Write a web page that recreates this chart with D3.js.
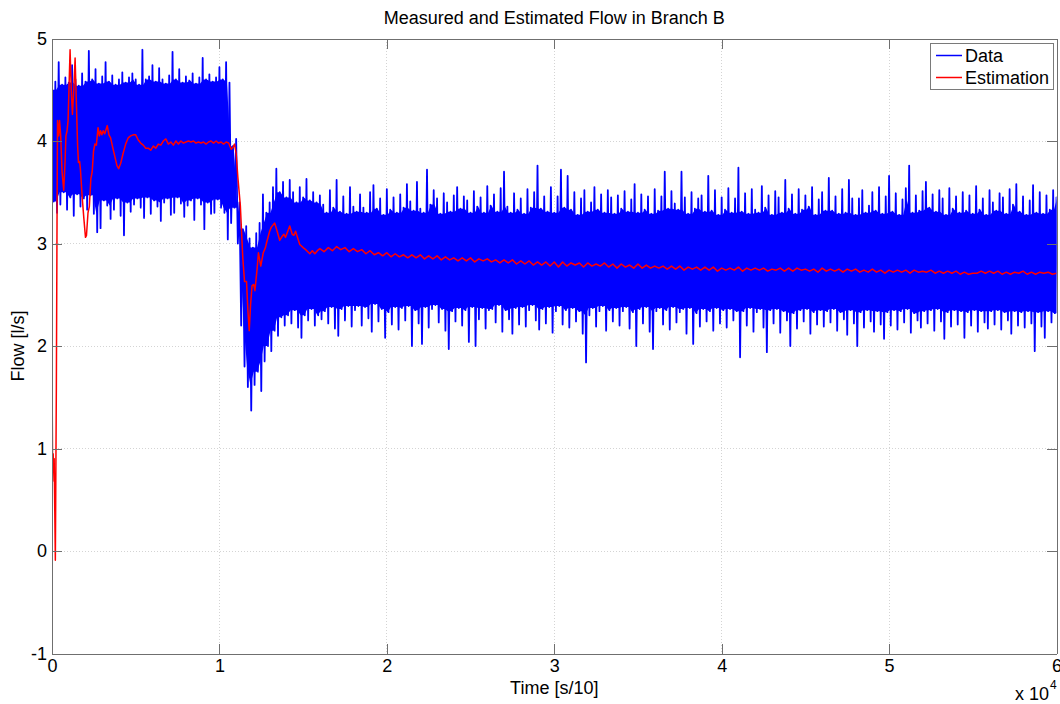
<!DOCTYPE html>
<html>
<head>
<meta charset="utf-8">
<title>Measured and Estimated Flow in Branch B</title>
<script src="https://cdn.jsdelivr.net/npm/d3@7"></script>
<style>
  body { margin: 0; background: #fff; }
  svg text { font-family: "Liberation Sans", Arial, Helvetica, sans-serif; fill: #000; }
</style>
</head>
<body>
<svg id="chart" width="1060" height="704"></svg>
<script>
// measured flow, reduced to the upper / lower extreme of every 200 samples
var flowStep = 200;
var flowHigh = [
  4.50,4.58,4.77,4.55,4.62,4.57,4.74,4.60,4.54,4.66,
  4.58,4.88,4.60,4.70,4.56,4.63,4.77,4.58,4.64,4.55,
  4.60,4.67,4.57,4.62,4.66,4.60,4.55,4.89,4.60,4.63,
  4.74,4.58,4.71,4.60,4.56,4.64,4.87,4.60,4.70,4.57,
  4.63,4.59,4.66,4.56,4.62,4.81,4.60,4.65,4.58,4.62,
  4.72,4.60,4.77,4.57,
  3.95,4.02,3.40,3.14,3.17,3.05,2.96,3.10,3.20,3.48,
  3.30,3.40,3.55,3.73,3.50,3.60,3.45,3.62,3.50,3.40,
  3.55,3.45,3.63,3.42,3.50,3.40,3.47,
  3.38,3.30,3.52,3.35,3.62,3.31,3.46,3.29,3.55,3.36,
  3.31,3.48,3.35,3.30,3.50,3.57,3.34,3.44,3.28,3.53,
  3.33,3.45,3.30,3.48,3.35,3.58,3.41,3.32,3.60,3.34,
  3.30,3.72,3.38,3.52,3.44,3.29,3.49,3.40,3.31,3.47,
  3.55,3.34,3.46,3.42,3.30,3.51,3.36,3.45,3.30,3.56,
  3.37,3.48,3.31,3.54,3.70,3.36,3.30,3.49,3.33,3.44,
  3.29,3.53,3.35,3.50,3.76,3.34,3.46,3.31,3.55,3.30,
  3.46,3.72,3.35,3.66,3.33,3.50,3.28,3.44,3.52,3.31,
  3.40,3.55,3.33,3.48,3.30,3.52,3.45,3.29,3.47,3.34,
  3.51,3.31,3.43,3.58,3.30,3.48,3.33,3.46,3.29,3.53,
  3.32,3.46,3.70,3.34,3.51,3.39,3.33,3.70,3.45,3.29,
  3.50,3.34,3.44,3.47,3.31,3.66,3.32,3.52,3.28,3.45,
  3.33,3.54,3.30,3.44,3.74,3.31,3.49,3.29,3.53,3.33,
  3.30,3.56,3.35,3.47,3.28,3.51,3.45,3.30,3.62,3.34,
  3.48,3.29,3.53,3.33,3.47,3.36,3.55,3.28,3.43,3.50,
  3.32,3.64,3.32,3.46,3.29,3.53,3.30,3.62,3.44,3.28,
  3.44,3.52,3.30,3.37,3.50,3.32,3.55,3.29,3.46,3.66,
  3.31,3.49,3.28,3.43,3.54,3.76,3.30,3.47,3.32,3.51,
  3.60,3.35,3.48,3.31,3.52,3.44,3.28,3.54,3.34,3.46,
  3.30,3.50,3.32,3.47,3.29,3.56,3.33,3.44,3.28,3.52,
  3.40,3.32,3.49,3.45,3.29,3.53,3.38,3.58,3.31,3.46,
  3.28,3.42,3.57,3.30,3.50,3.29,3.47,3.33,3.52,3.45
];
var flowLow = [
  3.41,3.30,3.38,3.50,3.33,3.45,3.27,3.48,3.36,3.44,
  3.33,3.47,3.29,3.11,3.15,3.42,3.37,3.24,3.33,3.44,
  3.27,3.08,3.40,3.31,3.38,3.44,3.35,3.25,3.45,3.29,
  3.42,3.36,3.22,3.40,3.44,3.28,3.30,3.45,3.39,3.26,
  3.37,3.42,3.23,3.44,3.38,3.14,3.40,3.29,3.30,3.43,
  3.35,3.30,3.04,3.20,
  3.35,3.00,2.20,1.80,1.60,1.37,1.62,1.75,1.56,1.85,
  2.00,1.95,2.15,2.10,2.28,2.20,2.30,2.22,2.35,2.18,
  2.08,2.30,2.25,2.36,2.20,2.30,2.26,
  2.34,2.22,2.38,2.17,2.10,2.36,2.25,2.39,2.19,2.35,
  2.39,2.20,2.38,2.27,2.14,2.41,2.24,2.36,2.08,2.33,
  2.21,2.38,2.16,2.37,2.25,2.39,2.00,2.35,2.22,2.02,
  2.38,2.18,2.36,2.40,2.23,2.36,2.15,1.97,2.34,2.24,
  2.37,2.20,2.35,2.04,2.38,2.00,2.26,2.37,2.17,2.35,
  2.36,2.23,2.40,2.14,2.35,2.26,2.12,2.37,2.21,2.38,
  2.19,2.35,2.40,2.25,2.16,2.36,2.22,2.38,2.13,2.34,
  2.39,2.21,2.35,2.18,2.37,2.24,2.34,2.12,1.84,2.30,
  2.37,2.19,2.34,2.39,2.15,2.35,2.24,2.37,2.20,2.34,
  2.38,2.17,2.33,2.00,2.36,2.22,2.38,2.14,1.97,2.34,
  2.37,2.21,2.35,2.16,2.38,2.23,2.33,2.36,2.12,2.37,
  2.02,2.32,2.19,2.36,2.24,2.34,2.15,2.37,2.22,2.35,
  2.18,2.36,2.25,2.34,1.89,2.34,2.20,2.37,2.14,2.33,
  2.36,2.18,1.94,2.35,2.22,2.36,2.13,2.34,2.25,2.00,
  2.32,2.17,2.35,2.24,2.36,2.12,2.33,2.21,2.35,2.19,
  2.34,2.23,2.36,2.15,2.33,2.26,2.11,2.35,2.22,2.00,
  2.33,2.18,2.35,2.24,2.14,2.34,2.21,2.07,2.33,2.20,
  2.35,2.16,2.34,2.23,2.36,2.13,2.32,2.25,2.18,2.34,
  2.22,2.35,2.15,2.36,2.24,2.07,2.33,2.19,2.35,2.21,
  2.34,2.08,2.33,2.20,2.35,2.14,2.34,2.23,2.17,2.34,
  2.21,2.35,2.16,2.33,2.25,2.12,2.34,2.20,2.33,2.18,
  2.34,2.22,1.95,2.33,2.19,2.08,2.34,2.23,2.32,2.17
];

// estimator output during start-up and the step (sample index, l/s)
var estStartT = [0,40,70,100,130,200,260,300,330,400,450,520,600,700,780,830,900,960,1080,1150,
  1220,1300,1380,1460,1530,1580,1650,1700,1800,1900,2000,2060,2150,2230,2320,2400,2480,2560,2650,2750,
  2830,2900,2980,3060,3150,3300,3400,3500,3650,3780,3880,3980,4100,4250,4400,4550,4700,4850,5000,5150,
  5300,5450,5600,5750,5900,6050,6200,6350,6500,6650,6800,6950,7100,7250,7400,7550,7700,7850,8000,8150,
  8300,8450,8600,8750,8900,9050,9200,9350,9500,9650,9800,9950,10100,10250,10400,10550,10700,10820,10900,11000,
  11100,11250,11400,11500,11620,11700,11780,11860,11950,12050,12120,12250,12330,12470,12620,12750,12820,13000,13100,13300,
  13450,13600,13750,13850,13950,14200,14350,14450,14550,14700,14800,15000,15150,15400,15550,15700,15850,16000];
var estStartV = [1.75,0.68,0.95,0.80,0.90,-0.09,1.60,3.20,4.20,4.05,4.20,4.05,3.70,3.52,3.80,4.05,4.10,4.20,4.89,4.50,
  4.26,4.50,4.81,4.35,3.95,3.79,3.80,3.72,3.46,3.25,3.06,3.08,3.30,3.36,3.63,3.70,3.90,3.97,3.96,4.13,
  4.05,4.10,4.06,4.10,4.07,4.15,4.06,4.03,3.92,3.83,3.76,3.73,3.78,3.88,3.97,4.03,4.05,4.06,4.06,4.01,
  3.98,3.96,3.93,3.93,3.91,3.95,3.93,3.97,3.96,4.00,4.02,3.97,3.99,3.96,4.00,3.97,4.00,3.98,3.99,4.00,
  3.99,4.00,3.98,3.99,3.98,3.99,3.97,3.99,4.00,3.98,4.00,3.98,3.99,3.97,3.99,3.98,3.92,3.94,3.97,3.88,
  3.65,3.37,2.85,2.63,2.63,2.35,2.15,2.40,2.59,2.60,2.54,2.75,2.91,2.78,2.91,2.96,3.01,3.12,3.16,3.20,
  3.12,3.03,3.07,3.09,3.06,3.17,3.09,3.08,3.12,3.04,2.99,2.96,2.94,2.90,2.93,2.90,2.93,2.95];

// settled estimate, one value every 250 samples from sample 16250 to 60000
var estTailStart = 16250;
var estTailStep = 250;
var estTailV = [
  2.92,2.96,2.93,2.97, 2.94,2.96,2.92,2.95, 2.92,2.94,2.90,2.93, 2.89,2.91,2.88,2.91,
  2.87,2.90,2.87,2.89, 2.86,2.89,2.86,2.89, 2.85,2.88,2.85,2.88, 2.84,2.87,2.84,2.86,
  2.83,2.86,2.83,2.86, 2.82,2.85,2.83,2.85, 2.82,2.84,2.81,2.84, 2.81,2.84,2.80,2.83,
  2.80,2.83,2.79,2.82, 2.79,2.82,2.78,2.82, 2.77,2.82,2.78,2.81, 2.79,2.81,2.77,2.81,
  2.78,2.80,2.78,2.81, 2.77,2.80,2.76,2.80, 2.77,2.79,2.76,2.80, 2.76,2.79,2.76,2.78,
  2.76,2.78,2.75,2.78, 2.75,2.78,2.74,2.77, 2.75,2.77,2.74,2.77, 2.74,2.77,2.73,2.76,
  2.74,2.76,2.74,2.77, 2.73,2.76,2.74,2.76, 2.74,2.76,2.73,2.75, 2.74,2.76,2.73,2.76,
  2.73,2.76,2.74,2.75, 2.73,2.75,2.72,2.76, 2.73,2.75,2.73,2.75, 2.72,2.75,2.73,2.75,
  2.72,2.74,2.72,2.75, 2.72,2.74,2.71,2.74, 2.72,2.74,2.72,2.74, 2.71,2.74,2.72,2.73,
  2.72,2.74,2.71,2.73, 2.71,2.73,2.71,2.73, 2.70,2.72,2.70,2.71, 2.71,2.73,2.71,2.73,
  2.71,2.73,2.70,2.72, 2.70,2.72,2.71,2.73, 2.70,2.72,2.70,2.72, 2.71,2.72,2.70,2.71
];

var xTicks = [0, 1, 2, 3, 4, 5, 6];   // in units of 10^4 samples
var yTicks = [-1, 0, 1, 2, 3, 4, 5];

var svg = d3.select("#chart");
var plotLeft = 52, plotRight = 1056.5, plotTop = 38.5, plotBottom = 653.5;

var x = d3.scaleLinear().domain([0, 60000]).range([plotLeft, plotRight]);
var y = d3.scaleLinear().domain([-1, 5]).range([plotBottom, plotTop]);
var axisColor = "#6f6f6f";

svg.append("defs").append("clipPath").attr("id", "plot-clip")
  .append("rect").attr("x", plotLeft).attr("y", plotTop)
  .attr("width", plotRight - plotLeft).attr("height", plotBottom - plotTop);

// dotted grid
var grid = svg.append("g").attr("stroke", "#d4d4d4").attr("stroke-dasharray", "1,2")
  .attr("shape-rendering", "crispEdges");
grid.selectAll("line.gx").data(xTicks.slice(1, -1)).join("line").attr("class", "gx")
  .attr("x1", d => x(d * 1e4)).attr("x2", d => x(d * 1e4))
  .attr("y1", plotTop).attr("y2", plotBottom);
grid.selectAll("line.gy").data(yTicks.slice(1, -1)).join("line").attr("class", "gy")
  .attr("x1", plotLeft).attr("x2", plotRight)
  .attr("y1", d => y(d)).attr("y2", d => y(d));

var plot = svg.append("g").attr("clip-path", "url(#plot-clip)");

// dense core of the measured trace: the band every neighbouring bin covers
var n = flowHigh.length;
var core = d3.range(n).map(i => {
  var lo = Math.max(0, i - 1), hi = Math.min(n, i + 2);
  return [i * flowStep + flowStep / 4,
          d3.min(flowHigh.slice(lo, hi)),
          d3.max(flowLow.slice(lo, hi))];
});
plot.append("path").datum(core)
  .attr("d", d3.area().x(d => x(d[0])).y0(d => y(d[2])).y1(d => y(d[1])))
  .attr("fill", "#0000ff");

// measured data: trace swings between each bin's high and low extreme
var flowPoints = [];
flowHigh.forEach((h, i) => {
  flowPoints.push([i * flowStep, h]);
  flowPoints.push([i * flowStep + flowStep / 2, flowLow[i]]);
});
var flowLine = d3.line().x(d => x(d[0])).y(d => y(d[1]));
plot.append("path").datum(flowPoints)
  .attr("d", flowLine)
  .attr("fill", "none")
  .attr("stroke", "#0000ff")
  .attr("stroke-width", 1.8)
  .attr("stroke-linejoin", "round");

// estimation line
var estPoints = estStartT.map((t, i) => [t, estStartV[i]])
  .concat(estTailV.map((v, i) => [estTailStart + i * estTailStep, v]));
var estLine = d3.line().x(d => x(d[0])).y(d => y(d[1]));
plot.append("path").datum(estPoints)
  .attr("d", estLine)
  .attr("fill", "none")
  .attr("stroke", "#ff0000")
  .attr("stroke-width", 1.5)
  .attr("stroke-linejoin", "round");

// axes: ticks point inwards on all four sides
function styleAxis(g) {
  g.select(".domain").attr("stroke", axisColor);
  g.selectAll(".tick line").attr("stroke", axisColor);
  g.selectAll(".tick text").attr("font-size", 18).attr("fill", "#000");
  g.attr("shape-rendering", "crispEdges");
}
svg.append("g").attr("transform", `translate(0,${plotBottom})`)
  .call(d3.axisBottom(x).tickValues(xTicks.map(d => d * 1e4)).tickFormat(d => String(d / 1e4))
    .tickSizeInner(-10).tickSizeOuter(0).tickPadding(6))
  .call(styleAxis);
svg.append("g").attr("transform", `translate(0,${plotTop})`)
  .call(d3.axisTop(x).tickValues(xTicks.map(d => d * 1e4)).tickFormat("")
    .tickSizeInner(-10).tickSizeOuter(0))
  .call(styleAxis);
svg.append("g").attr("transform", `translate(${plotLeft},0)`)
  .call(d3.axisLeft(y).tickValues(yTicks).tickFormat(d => String(d))
    .tickSizeInner(-10).tickSizeOuter(0).tickPadding(5))
  .call(styleAxis);
svg.append("g").attr("transform", `translate(${plotRight},0)`)
  .call(d3.axisRight(y).tickValues(yTicks).tickFormat("")
    .tickSizeInner(-10).tickSizeOuter(0))
  .call(styleAxis);

// titles
svg.append("text").attr("x", (plotLeft + plotRight) / 2).attr("y", 24)
  .attr("text-anchor", "middle").attr("font-size", 18)
  .text("Measured and Estimated Flow in Branch B");
svg.append("text").attr("x", (plotLeft + plotRight) / 2).attr("y", 694)
  .attr("text-anchor", "middle").attr("font-size", 18)
  .text("Time [s/10]");
svg.append("text").attr("transform", `translate(24,${(plotTop + plotBottom) / 2}) rotate(-90)`)
  .attr("text-anchor", "middle").attr("font-size", 18)
  .text("Flow [l/s]");

// axis multiplier
svg.append("text").attr("x", 1049).attr("y", 700)
  .attr("text-anchor", "end").attr("font-size", 18).text("x 10");
svg.append("text").attr("x", 1050).attr("y", 689).attr("font-size", 12).text("4");

// legend
var legendItems = [
  { name: "Data", color: "#0000ff" },
  { name: "Estimation", color: "#ff0000" }
];
var legend = svg.append("g").attr("transform", "translate(930,43.5)");
legend.append("rect").attr("width", 123.5).attr("height", 46)
  .attr("fill", "#fff").attr("stroke", "#7a7a7a").attr("shape-rendering", "crispEdges");
var rows = legend.selectAll("g.item").data(legendItems).join("g").attr("class", "item")
  .attr("transform", (d, i) => `translate(0,${12 + i * 22})`);
rows.append("line").attr("x1", 6).attr("x2", 32).attr("y1", 0).attr("y2", 0)
  .attr("stroke", d => d.color).attr("stroke-width", 1.5);
rows.append("text").attr("x", 35).attr("dy", "0.35em").attr("font-size", 18)
  .text(d => d.name);
</script>
</body>
</html>
